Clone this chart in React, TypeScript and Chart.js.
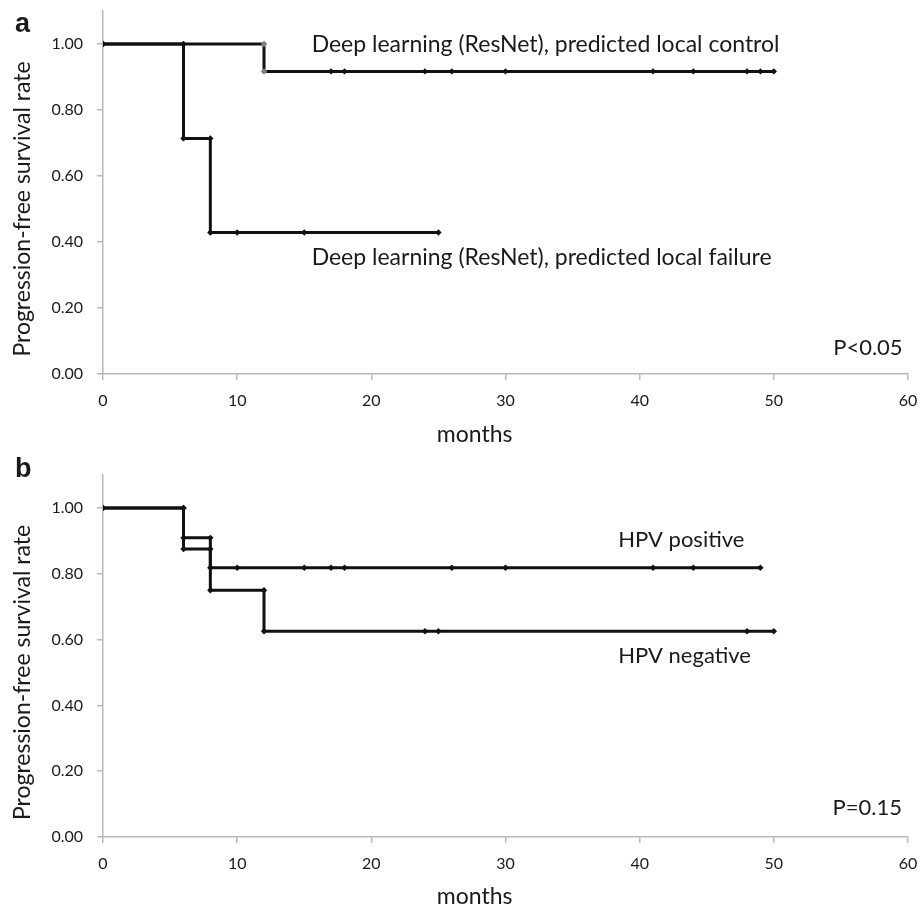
import React, { useEffect, useRef } from "react";
import { Chart, registerables } from "chart.js";

Chart.register(...registerables);

// ---------- data ----------
const xTickValues = [0, 10, 20, 30, 40, 50, 60];
const yTickValues = [0, 0.2, 0.4, 0.6, 0.8, 1.0];

// Panel a: Kaplan-Meier step points (months, rate)
const controlMonths = [0, 12, 12, 17, 18, 24, 26, 30, 41, 44, 48, 49, 50];
const controlRate = [1, 1, 0.917, 0.917, 0.917, 0.917, 0.917, 0.917, 0.917, 0.917, 0.917, 0.917, 0.917];
const failureMonths = [0, 6, 6, 8, 8, 10, 15, 25];
const failureRate = [1, 1, 0.714, 0.714, 0.429, 0.429, 0.429, 0.429];

// Panel b
const hpvPosMonths = [0, 6, 6, 8, 8, 10, 15, 17, 18, 26, 30, 41, 44, 49];
const hpvPosRate = [1, 1, 0.909, 0.909, 0.818, 0.818, 0.818, 0.818, 0.818, 0.818, 0.818, 0.818, 0.818, 0.818];
const hpvNegMonths = [0, 6, 6, 8, 8, 12, 12, 24, 25, 48, 50];
const hpvNegRate = [1, 1, 0.875, 0.875, 0.75, 0.75, 0.625, 0.625, 0.625, 0.625, 0.625];

const grayMarkerMonth = 12; // panel a, control curve markers at 12 are gray

// annotation labels: text, month, rate, align
const panelALabels = [
  { text: "Deep learning (ResNet), predicted local control", x: 15.55, y: 0.977, align: "left", size: 23 },
  { text: "Deep learning (ResNet), predicted local failure", x: 15.55, y: 0.33, align: "left", size: 23 },
  { text: "P<0.05", x: 59.6, y: 0.058, align: "right", size: 22 },
];
const panelBLabels = [
  { text: "HPV positive", x: 38.4, y: 0.88, align: "left", size: 22 },
  { text: "HPV negative", x: 38.4, y: 0.528, align: "left", size: 22 },
  { text: "P=0.15", x: 59.55, y: 0.067, align: "right", size: 22 },
];

const yTitle = "Progression-free survival rate";
const xTitle = "months";
const xTitleCenterMonth = 27.7; // title is centred under this month value
const yTitleSpan = [0, 1]; // y title centred on this value range

// ---------- styles ----------
const FONT = 'Lato, "Open Sans", sans-serif';
const TEXT = "#1a1a1a";
const AXIS = "#b8b8b8";

function pts(xs: number[], ys: number[]) {
  return xs.map((x, i) => ({ x, y: ys[i] }));
}

function textPlugin(labels: any[], letter: string, letterX: number, letterY: number, xTitleY: number) {
  return {
    id: "kmText" + letter,
    afterDatasetsDraw(chart: any) {
      const ctx = chart.ctx;
      const xs = chart.scales.x;
      const ys = chart.scales.y;
      ctx.save();
      ctx.fillStyle = TEXT;
      ctx.textBaseline = "alphabetic";
      labels.forEach((l) => {
        ctx.font = `${l.size}px ${FONT}`;
        ctx.textAlign = l.align;
        ctx.fillText(l.text, xs.getPixelForValue(l.x), ys.getPixelForValue(l.y));
      });
      // axis titles
      ctx.font = `23px ${FONT}`;
      ctx.textAlign = "center";
      ctx.textBaseline = "middle";
      ctx.fillText(xTitle, xs.getPixelForValue(xTitleCenterMonth), xTitleY);
      const yMid = (ys.getPixelForValue(yTitleSpan[0]) + ys.getPixelForValue(yTitleSpan[1])) / 2;
      ctx.save();
      ctx.translate(23, yMid);
      ctx.rotate(-Math.PI / 2);
      ctx.fillText(yTitle, 0, 0);
      ctx.restore();
      // panel letter
      ctx.font = 'bold 27px "Liberation Sans", Arial, sans-serif';
      ctx.textAlign = "left";
      ctx.textBaseline = "alphabetic";
      ctx.fillText(letter, letterX, letterY);
      ctx.restore();
    },
  };
}

function makeConfig(
  datasets: any[],
  padding: any,
  xHeight: number,
  labels: any[],
  letter: string,
  letterX: number,
  letterY: number,
  xTitleY: number
) {
  return {
    type: "scatter" as const,
    data: { datasets },
    options: {
      animation: false,
      responsive: false,
      devicePixelRatio: 1,
      layout: { padding },
      plugins: { legend: { display: false }, tooltip: { enabled: false } },
      scales: {
        x: {
          type: "linear",
          min: 0,
          max: 60,
          afterBuildTicks: (s: any) => {
            s.ticks = xTickValues.map((v) => ({ value: v }));
          },
          afterFit: (s: any) => {
            s.height = xHeight;
            s.paddingLeft = 0;
            s.paddingRight = 0;
          },
          ticks: { color: TEXT, font: { family: FONT, size: 16 }, padding: 11, maxRotation: 0 },
          grid: { drawOnChartArea: false, drawTicks: true, tickLength: 6, color: AXIS, lineWidth: 1.5 },
          border: { color: AXIS, width: 1.5 },
          title: { display: false },
        },
        y: {
          type: "linear",
          min: 0,
          max: 1.1,
          afterBuildTicks: (s: any) => {
            s.ticks = yTickValues.map((v) => ({ value: v }));
          },
          afterFit: (s: any) => {
            s.width = 89.5;
            s.paddingTop = 0;
            s.paddingBottom = 0;
          },
          ticks: {
            color: TEXT,
            font: { family: FONT, size: 16 },
            padding: 14,
            callback: (v: any) => Number(v).toFixed(2),
          },
          grid: { drawOnChartArea: false, drawTicks: true, tickLength: 6, color: AXIS, lineWidth: 1.5 },
          border: { color: AXIS, width: 1.5 },
          title: { display: false },
        },
      },
    },
    plugins: [textPlugin(labels, letter, letterX, letterY, xTitleY)],
  };
}

function lineDs(data: any[], colorFn?: (x: number) => string) {
  return {
    data,
    showLine: true,
    borderColor: "#111",
    borderWidth: 3,
    pointStyle: "rectRot",
    pointRadius: 3.2,
    pointBorderWidth: 0,
    pointBackgroundColor: colorFn ? (c: any) => colorFn(data[c.dataIndex]?.x) : "#111",
    pointBorderColor: colorFn ? (c: any) => colorFn(data[c.dataIndex]?.x) : "#111",
  };
}

export default function App() {
  const topRef = useRef<HTMLCanvasElement>(null);
  const botRef = useRef<HTMLCanvasElement>(null);

  useEffect(() => {
    const grayFn = (x: number) => (x === grayMarkerMonth ? "#7f7f7f" : "#111");
    const top = new Chart(
      topRef.current as HTMLCanvasElement,
      makeConfig(
        [lineDs(pts(failureMonths, failureRate)), lineDs(pts(controlMonths, controlRate), grayFn)],
        { top: 11, left: 13.5, right: 13, bottom: 13.5 },
        72.5,
        panelALabels,
        "a",
        15,
        32,
        435
      ) as any
    );
    const bot = new Chart(
      botRef.current as HTMLCanvasElement,
      makeConfig(
        [lineDs(pts(hpvNegMonths, hpvNegRate)), lineDs(pts(hpvPosMonths, hpvPosRate))],
        { top: 35, left: 13.5, right: 13, bottom: 0.5 },
        73.5,
        panelBLabels,
        "b",
        15,
        37,
        457
      ) as any
    );
    return () => {
      top.destroy();
      bot.destroy();
    };
  }, []);

  return (
    <div
      style={{
        position: "absolute",
        left: 0,
        top: 0,
        width: 921,
        height: 907,
        overflow: "hidden",
        background: "#fff",
      }}
    >
      <canvas
        ref={topRef}
        width={921}
        height={460}
        style={{ position: "absolute", left: 0, top: 0, width: 921, height: 460 }}
      />
      <canvas
        ref={botRef}
        width={921}
        height={471}
        style={{ position: "absolute", left: 0, top: 440, width: 921, height: 471 }}
      />
    </div>
  );
}
